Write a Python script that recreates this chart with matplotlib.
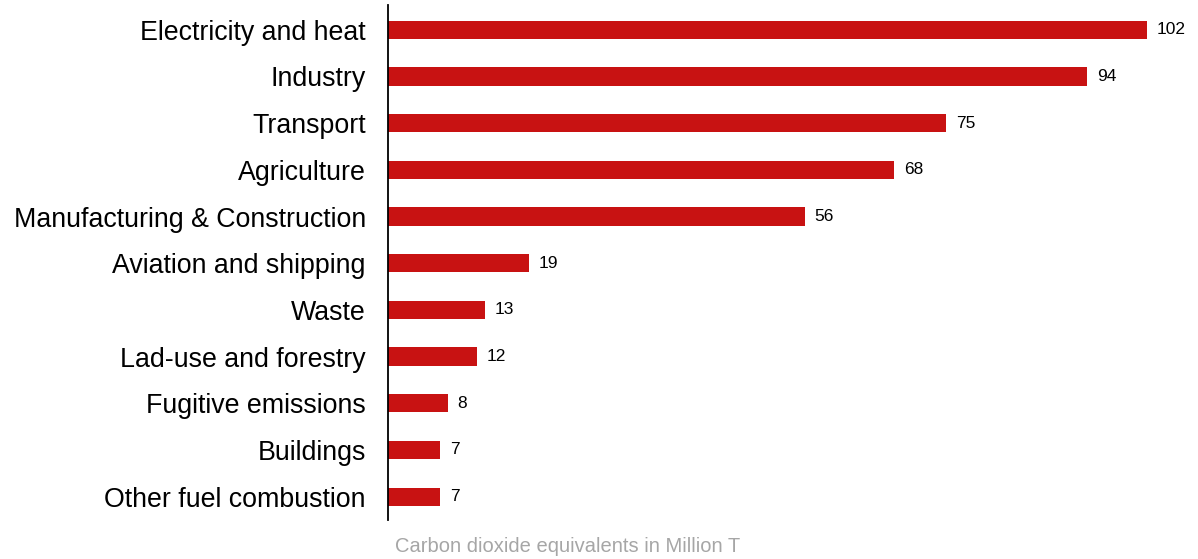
import matplotlib.pyplot as plt

plt.rcParams['font.family'] = ['Liberation Sans', 'DejaVu Sans']

categories = ["Electricity and heat", "Industry", "Transport", "Agriculture",
              "Manufacturing & Construction", "Aviation and shipping", "Waste",
              "Lad-use and forestry", "Fugitive emissions", "Buildings",
              "Other fuel combustion"]
values = [102, 94, 75, 68, 56, 19, 13, 12, 8, 7, 7]

fig = plt.figure(figsize=(11.98, 5.59), dpi=100)
ax = fig.add_axes([388 / 1198, 39 / 559, 1 - 388 / 1198, 515 / 559])

pos = list(range(len(categories)))
ax.barh(pos, values, height=0.39, color='#C81212')
for p, v in zip(pos, values):
    ax.annotate(str(v), (v, p), xytext=(7, 0), textcoords='offset points',
                va='center', ha='left', fontsize=12.5, color='black')

ax.set_yticks(pos)
ax.set_yticklabels(categories, fontsize=19.3)
ax.tick_params(axis='y', length=0, pad=16)
ax.set_ylim(10.5, -0.53)
ax.set_xlim(0, 810 / 7.44)
ax.set_xticks([])
for s in ['top', 'right', 'bottom']:
    ax.spines[s].set_visible(False)
ax.spines['left'].set_linewidth(1.3)

fig.text(395 / 1198, 12 / 559, "Carbon dioxide equivalents in Million T",
         fontsize=14.5, color='#A6A6A6', ha='left', va='center')

fig.savefig('out.png', dpi=100)
